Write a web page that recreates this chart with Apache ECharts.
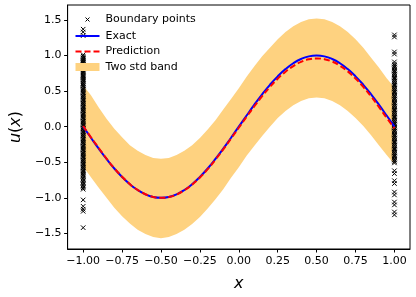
<!DOCTYPE html>
<html>
<head>
<meta charset="utf-8">
<script src="https://cdn.jsdelivr.net/npm/echarts@6/dist/echarts.min.js"></script>
<style>html,body{margin:0;padding:0;background:#fff}#c{width:416px;height:297px}</style>
</head>
<body>
<div id="c"></div>
<script>
const xs = [-1,-0.95,-0.9,-0.85,-0.8,-0.75,-0.7,-0.65,-0.6,-0.55,-0.5,-0.45,-0.4,-0.35,-0.3,-0.25,-0.2,-0.15,-0.1,-0.05,0,0.05,0.1,0.15,0.2,0.25,0.3,0.35,0.4,0.45,0.5,0.55,0.6,0.65,0.7,0.75,0.8,0.85,0.9,0.95,1];
const exact = [0,-0.156,-0.309,-0.454,-0.588,-0.707,-0.809,-0.891,-0.951,-0.988,-1,-0.988,-0.951,-0.891,-0.809,-0.707,-0.588,-0.454,-0.309,-0.156,0,0.156,0.309,0.454,0.588,0.707,0.809,0.891,0.951,0.988,1,0.988,0.951,0.891,0.809,0.707,0.588,0.454,0.309,0.156,0];
const prediction = [0.01,-0.15,-0.30,-0.45,-0.585,-0.705,-0.808,-0.89,-0.95,-0.988,-1.0,-0.99,-0.955,-0.895,-0.815,-0.715,-0.597,-0.464,-0.32,-0.168,-0.015,0.138,0.287,0.428,0.558,0.674,0.773,0.852,0.91,0.946,0.958,0.948,0.914,0.856,0.777,0.677,0.558,0.424,0.278,0.124,-0.025];
const upper = [0.58,0.44,0.27,0.11,-0.03,-0.15,-0.26,-0.34,-0.40,-0.44,-0.45,-0.44,-0.40,-0.34,-0.26,-0.16,-0.04,0.09,0.24,0.39,0.54,0.70,0.85,0.99,1.11,1.23,1.33,1.41,1.47,1.51,1.52,1.51,1.47,1.41,1.33,1.23,1.11,0.97,0.83,0.68,0.55];
const lower = [-0.56,-0.71,-0.86,-1.00,-1.14,-1.26,-1.36,-1.45,-1.51,-1.55,-1.57,-1.55,-1.51,-1.45,-1.37,-1.27,-1.15,-1.02,-0.88,-0.72,-0.57,-0.41,-0.27,-0.13,0.0,0.12,0.22,0.30,0.36,0.40,0.41,0.40,0.36,0.30,0.22,0.12,0.01,-0.12,-0.26,-0.40,-0.53];
const leftY = [1.37,1.33,1.28,1.01,0.99,0.97,0.96,0.94,0.93,0.91,0.9,0.88,0.87,0.85,0.84,0.82,0.8,0.79,0.77,0.76,0.74,0.72,0.71,0.69,0.68,0.66,0.65,0.63,0.61,0.6,0.58,0.57,0.55,0.53,0.52,0.5,0.48,0.47,0.45,0.43,0.42,0.4,0.38,0.37,0.35,0.33,0.32,0.3,0.28,0.27,0.25,0.23,0.22,0.2,0.18,0.17,0.15,0.13,0.12,0.1,0.08,0.07,0.05,0.03,0.02,0.0,-0.02,-0.03,-0.05,-0.07,-0.08,-0.1,-0.12,-0.13,-0.15,-0.17,-0.18,-0.2,-0.22,-0.23,-0.25,-0.27,-0.28,-0.3,-0.32,-0.33,-0.35,-0.37,-0.38,-0.4,-0.42,-0.43,-0.45,-0.47,-0.48,-0.5,-0.52,-0.53,-0.55,-0.57,-0.58,-0.6,-0.62,-0.63,-0.65,-0.67,-0.68,-0.7,-0.72,-0.74,-0.76,-0.78,-0.8,-0.82,-0.84,-0.86,-0.88,-1.03,-1.12,-1.16,-1.19,-1.42];
const rightY = [1.29,1.26,1.05,1.02,0.91,0.88,0.86,0.84,0.83,0.81,0.79,0.78,0.76,0.74,0.73,0.71,0.69,0.68,0.66,0.64,0.63,0.61,0.59,0.58,0.56,0.54,0.53,0.51,0.49,0.48,0.46,0.44,0.43,0.41,0.39,0.38,0.36,0.34,0.33,0.31,0.29,0.28,0.26,0.24,0.23,0.21,0.19,0.18,0.16,0.14,0.13,0.11,0.09,0.08,0.06,0.04,0.03,0.01,-0.01,-0.02,-0.04,-0.06,-0.07,-0.09,-0.11,-0.12,-0.14,-0.16,-0.17,-0.19,-0.21,-0.22,-0.24,-0.26,-0.27,-0.29,-0.31,-0.32,-0.34,-0.36,-0.37,-0.39,-0.41,-0.42,-0.44,-0.46,-0.47,-0.49,-0.51,-0.62,-0.66,-0.76,-0.8,-0.92,-0.96,-1.06,-1.1,-1.2,-1.24];
const xTicks = [-1,-0.75,-0.5,-0.25,0,0.25,0.5,0.75,1];
const yTicks = [-1.5,-1,-0.5,0,0.5,1,1.5];

const FONT = 'DejaVu Sans';
const fmt = (v, d) => { const s = Math.abs(v).toFixed(d); return (v < -1e-9 ? '\u2212' : '') + s; };
const pts = (arr) => xs.map((x, i) => [x, arr[i]]);
const bandData = xs.map((x, i) => [x, lower[i], upper[i]]);
const boundary = leftY.map(y => [-1, y]).concat(rightY.map(y => [1, y]));
const xPath = 'path://M0,0L10,10M10,0L0,10';

const chart = echarts.init(document.getElementById('c'), null, {renderer: 'canvas'});
chart.setOption({
  animation: false,
  backgroundColor: '#fff',
  grid: {left: 64, right: 6, top: 5, bottom: 45, show: true, borderColor: '#000', borderWidth: 1, containLabel: false},
  legend: {
    left: 73, top: 13, padding: 0, orient: 'vertical', itemWidth: 24, itemHeight: 8, itemGap: 4.5,
    textStyle: {fontFamily: FONT, fontSize: 11, color: '#000', padding: [0,0,0,1]},
    data: [
      {name: 'Boundary points', icon: 'path://M0,0M24,8M10,2L14,6M14,2L10,6', itemStyle: {color: 'none', borderColor: '#000', borderWidth: 1}},
      {name: 'Exact', icon: 'path://M0,0M24,8M0,3L24,3L24,5L0,5Z', itemStyle: {color: '#0000FF', borderWidth: 0}},
      {name: 'Prediction', icon: 'path://M0,0M24,8M0,3L6,3L6,5L0,5ZM9,3L15,3L15,5L9,5ZM18,3L24,3L24,5L18,5Z', itemStyle: {color: '#FF0000', borderWidth: 0}},
      {name: 'Two std band', icon: 'rect', itemStyle: {color: '#FED280'}}
    ]
  },
  xAxis: {
    type: 'value', min: -1.1, max: 1.1,
    name: '{i|x}', nameLocation: 'middle', nameGap: 27,
    nameTextStyle: {rich: {i: {fontFamily: FONT, fontSize: 16, fontStyle: 'italic', color: '#000'}}},
    axisLine: {onZero: false, lineStyle: {color: '#000'}},
    splitLine: {show: false},
    axisTick: {customValues: xTicks, length: 3.5, lineStyle: {color: '#000'}},
    axisLabel: {customValues: xTicks, formatter: v => fmt(v, 2), fontFamily: FONT, fontSize: 11, color: '#000', margin: 7}
  },
  yAxis: {
    type: 'value', min: -1.72, max: 1.71,
    name: '{i|u}{n|(}{i|x}{n|)}', nameLocation: 'middle', nameGap: 40, nameRotate: 90,
    nameTextStyle: {rich: {
      i: {fontFamily: FONT, fontSize: 16, fontStyle: 'italic', color: '#000'},
      n: {fontFamily: FONT, fontSize: 16, color: '#000'}
    }},
    axisLine: {onZero: false, lineStyle: {color: '#000'}},
    splitLine: {show: false},
    axisTick: {customValues: yTicks, length: 3.5, lineStyle: {color: '#000'}},
    axisLabel: {customValues: yTicks, formatter: v => fmt(v, 1), fontFamily: FONT, fontSize: 11, color: '#000', margin: 6}
  },
  series: [
    {
      name: 'Two std band', type: 'custom', z: 1,
      data: bandData,
      encode: {x: 0, y: [1, 2]},
      itemStyle: {color: '#FED280'},
      renderItem: function (params, api) {
        if (params.dataIndex !== 0) return null;
        const poly = [];
        for (let i = 0; i < xs.length; i++) poly.push(api.coord([xs[i], upper[i]]));
        for (let i = xs.length - 1; i >= 0; i--) poly.push(api.coord([xs[i], lower[i]]));
        return {type: 'polygon', shape: {points: poly}, style: {fill: '#FED280', stroke: null}};
      }
    },
    {
      name: 'Boundary points', type: 'scatter', z: 2,
      data: boundary, symbol: xPath, symbolSize: 4.5,
      itemStyle: {color: 'none', borderColor: '#000', borderWidth: 1, opacity: 1}
    },
    {
      name: 'Exact', type: 'line', z: 3, data: pts(exact), symbol: 'none', smooth: true,
      lineStyle: {color: '#0000FF', width: 2}, itemStyle: {color: '#0000FF'}
    },
    {
      name: 'Prediction', type: 'line', z: 4, data: pts(prediction), symbol: 'none', smooth: true,
      lineStyle: {color: '#FF0000', width: 2, type: [6, 3]}, itemStyle: {color: '#FF0000'}
    }
  ]
});
</script>
</body>
</html>
